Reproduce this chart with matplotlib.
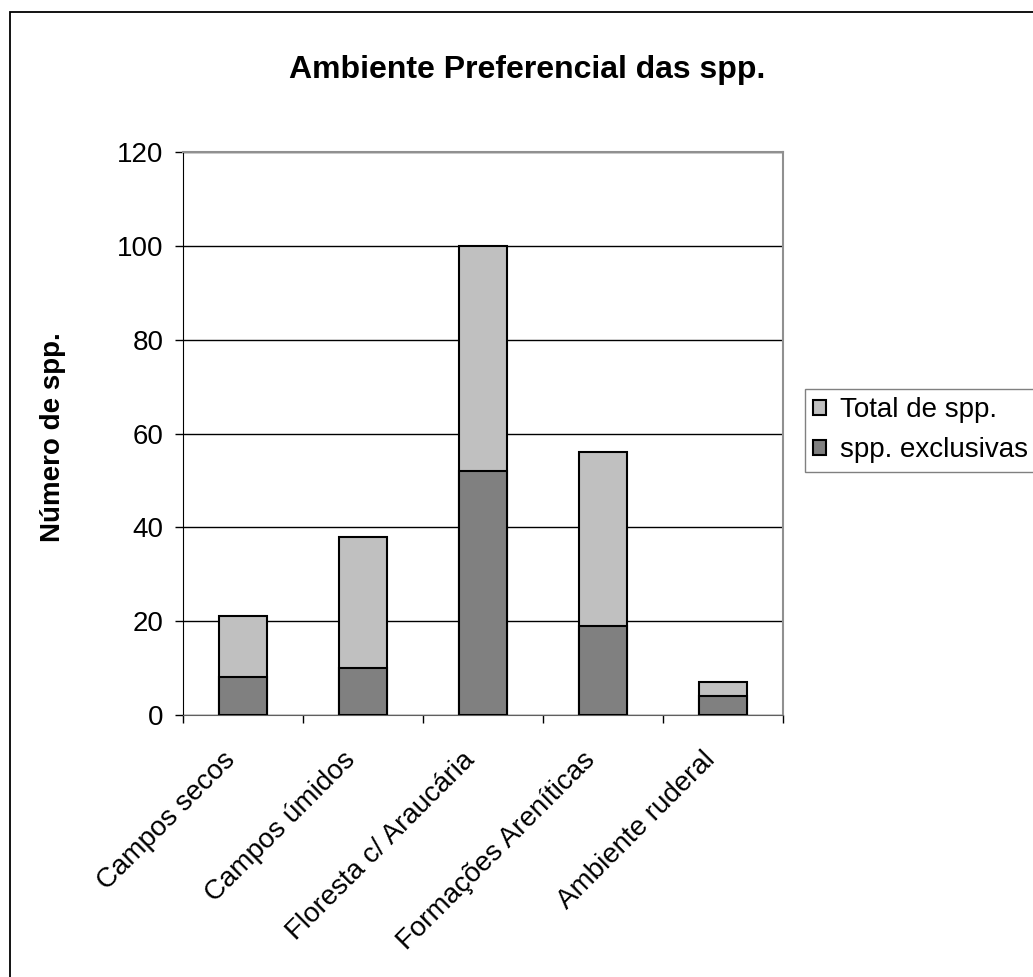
import matplotlib
matplotlib.use("Agg")
import matplotlib.pyplot as plt
from matplotlib.patches import Rectangle
from matplotlib.transforms import ScaledTranslation
import numpy as np

plt.rcParams['font.family'] = ['Liberation Sans', 'DejaVu Sans']

categories = ["Campos secos", "Campos úmidos", "Floresta c/ Araucária",
              "Formações Areníticas", "Ambiente ruderal"]
total_spp = [21, 38, 100, 56, 7]
exclusive_spp = [8, 10, 52, 19, 4]
yticks = [0, 20, 40, 60, 80, 100, 120]

W, H = 1033, 977
fig = plt.figure(figsize=(W / 100, H / 100), dpi=100)
ax = fig.add_axes([183 / W, 1 - 715 / H, 600 / W, (715 - 152) / H])

x = np.arange(len(categories))
bw = 0.4
ax.bar(x, total_spp, width=bw, color="#C0C0C0", edgecolor="black",
       linewidth=1.5, label="Total de spp.", zorder=3)
ax.bar(x, exclusive_spp, width=bw, color="#808080", edgecolor="black",
       linewidth=1.5, label="spp. exclusivas", zorder=4)

ax.set_xlim(-0.5, len(categories) - 0.5)
ax.set_ylim(0, 120)
ax.set_yticks(yticks)
ax.yaxis.grid(True, color="black", linewidth=1.0, zorder=0)
ax.set_axisbelow(True)

ax.set_xticks(x)
ax.set_xticklabels(categories, rotation=45, ha="right", rotation_mode="anchor",
                   fontsize=20)
ax.set_xticks(np.arange(-0.5, len(categories)), minor=True)
ax.tick_params(axis="x", which="major", length=0, pad=23)
ax.tick_params(axis="x", which="minor", length=6, width=1, color="black",
               direction="out")
ax.tick_params(axis="y", length=6, width=1, direction="out", pad=8,
               labelsize=20)
shift = ScaledTranslation(-0.21, 0, fig.dpi_scale_trans)
for lbl in ax.get_xticklabels():
    lbl.set_transform(lbl.get_transform() + shift)

for s in ["top", "right"]:
    ax.spines[s].set_color("#909090")
    ax.spines[s].set_linewidth(1.5)
ax.spines["bottom"].set_color("#606060")
ax.spines["left"].set_color("black")

fig.text(53 / W, 1 - 437 / H, "Número de spp.", rotation=90,
         ha="center", va="center", fontsize=20, fontweight="bold")
fig.text(527 / W, 1 - 70 / H, "Ambiente Preferencial das spp.",
         ha="center", va="center", fontsize=23, fontweight="bold")

leg = fig.legend(loc="upper left", bbox_to_anchor=(805 / W, 1 - 389 / H),
                 fontsize=20, frameon=True, fancybox=False, edgecolor="#606060",
                 handlelength=0.45, handleheight=0.45, handletextpad=0.5,
                 borderpad=0.3, labelspacing=0.5, borderaxespad=0)
leg.get_frame().set_linewidth(1.0)

border = Rectangle((10 / W, -0.1), 1.2, 1.1 - 12 / H, transform=fig.transFigure,
                   fill=False, edgecolor="black", linewidth=1.3)
fig.patches.append(border)

fig.savefig("out.png", dpi=100)
